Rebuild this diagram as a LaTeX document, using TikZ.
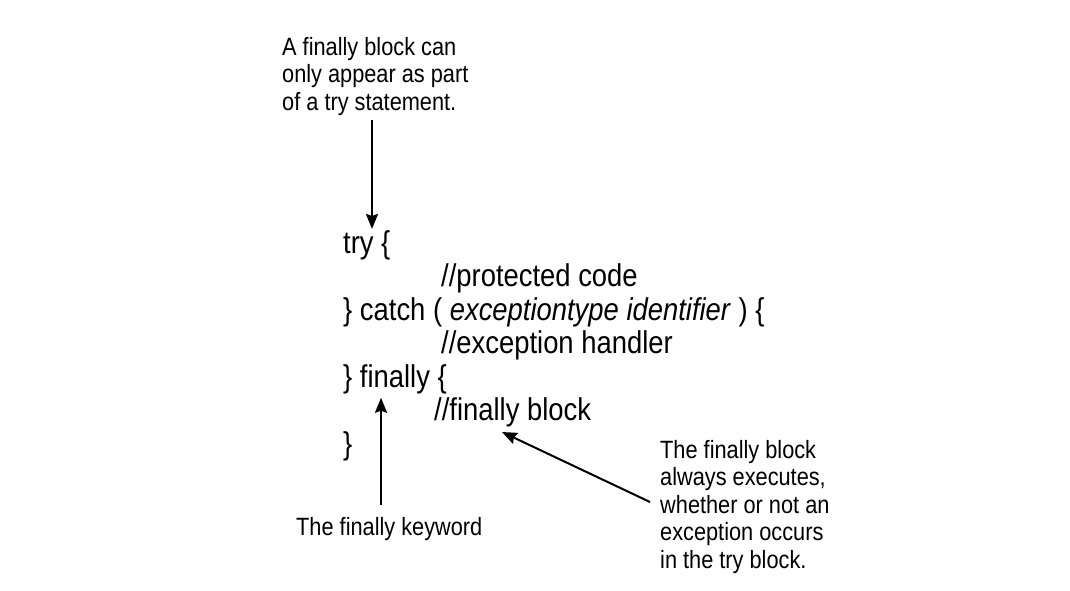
\documentclass[tikz,border=0pt]{standalone}
\usepackage{fontspec}
\setmainfont{Liberation Sans}[FakeStretch=0.87]
\usetikzlibrary{arrows.meta}

\begin{document}
\begin{tikzpicture}[x=1pt,y=-1pt,
  note/.style={anchor=base west,inner sep=0pt,align=left,font=\fontsize{25}{27.4}\selectfont},
  code/.style={anchor=base west,inner sep=0pt,font=\fontsize{31.5}{33.5}\selectfont},
  pointer/.style={line width=2pt,-{Stealth[length=15pt,width=12pt,inset=2pt]}}]
\useasboundingbox (0,0) rectangle (1070,590);
%说明
\node[note] (tryNote) at (282,110) {A finally block can\\only appear as part\\of a try statement.};
\node[note] (kwNote) at (296,535) {The finally keyword};
\node[note] (blockNote) at (660,568) {The finally block\\always executes,\\whether or not an\\exception occurs\\in the try block.};
%代码
\node[code] (tryLine) at (343,253) {try \{};
\node[code] (protLine) at (441,286.5) {//protected code};
\node[code] (catchLine) at (343,320) {\} catch ( \textit{exceptiontype identifier} ) \{};
\node[code] (handLine) at (441,353.5) {//exception handler};
\node[code] (finallyLine) at (343,387) {\} finally \{};
\node[code] (fblockLine) at (434,420.5) {//finally block};
\node[code] (endLine) at (343,454) {\}};
%箭头
\coordinate (arrowA) at (372,0);
\coordinate (arrowB) at (381,0);
\coordinate (blockTip) at (502,432);
\draw[pointer,shorten <=5pt,shorten >=1pt] (tryNote.south -| arrowA) -- (tryLine.north -| arrowA);
\draw[pointer,shorten <=12pt,shorten >=4pt] (kwNote.north -| arrowB) -- (finallyLine.south -| arrowB);
\draw[pointer,shorten <=11pt] (blockNote.west) -- (blockTip);
\end{tikzpicture}
\end{document}
